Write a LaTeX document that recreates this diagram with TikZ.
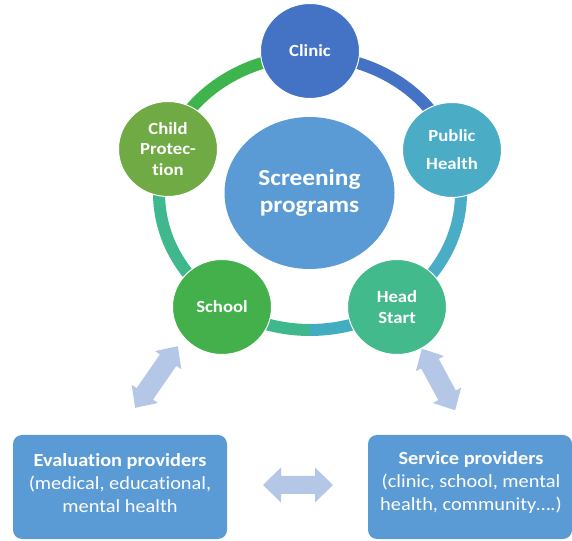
\documentclass[tikz,border=0pt]{standalone}
\usepackage{fontspec}
\setmainfont{Carlito}[FakeStretch=1.1, Ligatures=NoCommon]
\usetikzlibrary{shapes.geometric}

\definecolor{hubblue}{HTML}{5B9BD5}
\definecolor{clinicblue}{HTML}{4472C4}
\definecolor{phteal}{HTML}{4BACC6}
\definecolor{hsgreen}{HTML}{43BA8C}
\definecolor{schoolgreen}{HTML}{43B04C}
\definecolor{cpgreen}{HTML}{6FAA45}
\definecolor{ringgreen}{HTML}{3EB54C}
\definecolor{ringteal}{HTML}{3FB88E}
\definecolor{ringcyan}{HTML}{42ADC1}
\definecolor{linkblue}{HTML}{B4C7E7}

% double-headed block arrow: centre, angle, length, head half-width, shaft half-width, head length
\newcommand{\blockarrow}[6]{%
  \begin{scope}[shift={#1}, rotate=#2]
    \fill[linkblue] (-#3/2,0) -- (-#3/2+#6,#4) -- (-#3/2+#6,#5) -- (#3/2-#6,#5)
      -- (#3/2-#6,#4) -- (#3/2,0) -- (#3/2-#6,-#4) -- (#3/2-#6,-#5)
      -- (-#3/2+#6,-#5) -- (-#3/2+#6,-#4) -- cycle;
  \end{scope}}

\begin{document}
\begin{tikzpicture}[x=1pt, y=1pt,
  hub/.style={ellipse, fill=hubblue, minimum width=170pt, minimum height=152pt,
    inner sep=0pt, text=white, align=center,
    font=\bfseries\fontsize{23}{27}\selectfont},
  member/.style={ellipse, draw=white, line width=1pt, minimum width=99pt,
    minimum height=95pt, inner sep=0pt, text=white, align=center,
    font=\bfseries\fontsize{17}{20.5}\selectfont},
  ringarc/.style={line width=12pt},
  provider/.style={fill=hubblue, rounded corners=9pt, inner sep=0pt},
  providertext/.style={text=white, align=center, inner sep=0pt,
    font=\fontsize{18.5}{23}\selectfont}
]
\useasboundingbox (0,0) rectangle (572,540);
\clip (0,0) rectangle (572,540);

% the ring joining the five programme circles
\coordinate (ringc) at (310,347);
\draw[ringarc, ringgreen] (ringc) ++(162:151pt and 137pt)
  arc[start angle=162, end angle=90, x radius=151pt, y radius=137pt];
\draw[ringarc, clinicblue] (ringc) ++(90:151pt and 137pt)
  arc[start angle=90, end angle=18, x radius=151pt, y radius=137pt];
\draw[ringarc, phteal] (ringc) ++(18:151pt and 137pt)
  arc[start angle=18, end angle=-54, x radius=151pt, y radius=137pt];
\draw[ringarc, ringcyan] (ringc) ++(-54:151pt and 137pt)
  arc[start angle=-54, end angle=-90, x radius=151pt, y radius=137pt];
\draw[ringarc, ringteal] (ringc) ++(-90:151pt and 137pt)
  arc[start angle=-90, end angle=-198, x radius=151pt, y radius=137pt];

% centre
\node[hub] (hub) at (309.5,347) {Screening\\programs};

% programmes around the ring
\node[member, fill=clinicblue] (clinic) at (310,489) {Clinic};
\node[member, fill=phteal] (ph) at (452,390) {Public\\[7.5pt]Health};
\node[member, fill=hsgreen] (hs) at (397,233) {Head\\Start};
\node[member, fill=schoolgreen] (school) at (222,233) {School};
\node[member, fill=cpgreen] (cp) at (168,391) {Child\\Protec-\\tion};

% provider boxes
\node[provider, minimum width=214pt, minimum height=104pt] (evalbox) at (120,53) {};
\node[providertext] (evaltext) at (120,57)
  {\textbf{Evaluation providers}\\(medical, educational,\\mental health};
\node[provider, minimum width=204pt, minimum height=104pt] (servbox) at (470,53) {};
\node[providertext] (servtext) at (471,57)
  {\textbf{Service providers}\\(clinic, school, mental\\health, community\dots.)};

% two-way links
\blockarrow{(156.5,163)}{55.3}{75}{16}{10}{17}
\blockarrow{(438.5,160.5)}{118.4}{70}{16}{10}{17}
\blockarrow{(298,55)}{0}{70}{17.5}{9}{18}
\end{tikzpicture}
\end{document}
